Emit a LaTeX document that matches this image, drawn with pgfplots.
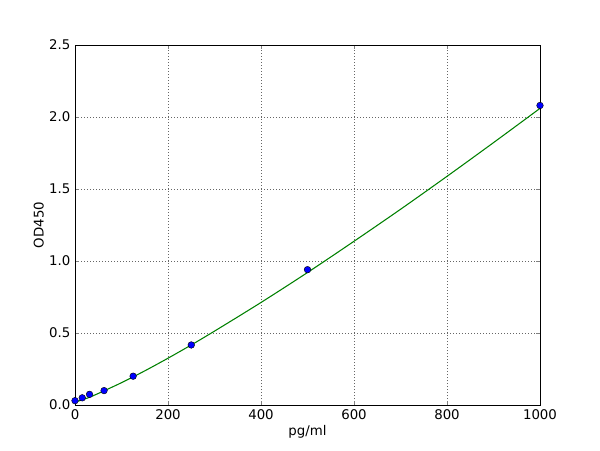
\documentclass[border=0pt]{standalone}
\usepackage{fontspec}
\setmainfont{DejaVu Sans}
\usepackage{pgfplots}
\pgfplotsset{compat=1.18}
\definecolor{mplgreen}{rgb}{0,0.5,0}
\begin{document}
\begin{tikzpicture}
\path[use as bounding box] (-56.25pt,-33.75pt) rectangle (393.75pt,303.75pt);
\begin{axis}[
    scale only axis,
    width=348.75pt, height=270pt,
    xmin=0, xmax=1000, ymin=0, ymax=2.5,
    xtick={0,200,...,1000},
    ytick={0,0.5,...,2.5},
    xticklabel style={/pgf/number format/.cd,1000 sep={}},
    yticklabel style={/pgf/number format/.cd,fixed,fixed zerofill,precision=1},
    /pgf/number format/assume math mode=true,
    tick align=inside,
    tick pos=both,
    major tick length=3pt,
    grid=major,
    grid style={black!60, dash pattern=on 0.75pt off 1.5pt, line width=0.5pt},
    axis line style={line width=0.7pt},
    font=\fontsize{10}{12}\selectfont,
    ticklabel style={font=\fontsize{10}{12}\selectfont},
    xlabel={pg/ml}, ylabel={OD450},
    xlabel style={yshift=3pt},
    ylabel style={yshift=-3pt},
]
% fitted curve
\addplot[mplgreen, line width=0.8pt, smooth] coordinates {
(0,0.020) (25,0.046) (50,0.080) (100,0.155) (150,0.237) (200,0.325)
(250,0.417) (300,0.513) (400,0.712) (500,0.920) (600,1.137) (700,1.359)
(800,1.588) (900,1.822) (1000,2.060)
};
% standards
\addplot[only marks, mark=*, mark size=2.5pt, mark options={fill=blue, draw=black, line width=0.3pt}] coordinates {
(0,0.03) (15.6,0.05) (31.25,0.074) (62.5,0.10) (125,0.20) (250,0.417) (500,0.94) (1000,2.08)
};
\end{axis}
\end{tikzpicture}
\end{document}
